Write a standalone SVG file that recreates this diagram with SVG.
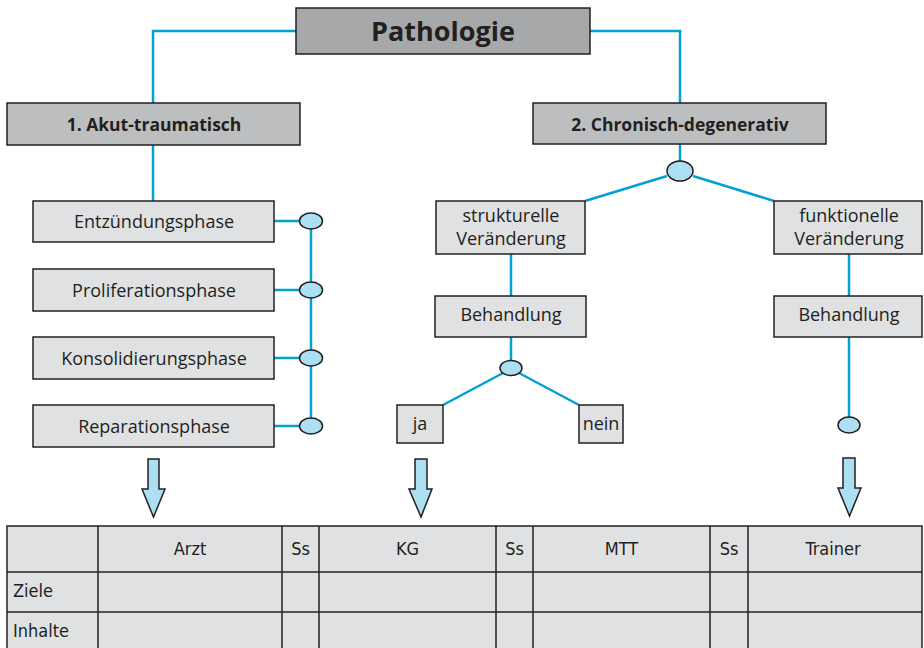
<svg xmlns="http://www.w3.org/2000/svg" width="924" height="648" viewBox="0 0 924 648">
<defs>
<style>
.dark{fill:#a7a8aa;stroke:#231f20;stroke-width:1.5}
.mid{fill:#bdbec0;stroke:#231f20;stroke-width:1.5}
.light{fill:#e0e1e3;stroke:#231f20;stroke-width:1.5}
.con{fill:none;stroke:#00a0d1;stroke-width:2.5}
.dot{fill:#acdff1;stroke:#231f20;stroke-width:1.5}
.arr{fill:#acdff1;stroke:#231f20;stroke-width:1.5;stroke-linejoin:miter}
.t{font-family:"Open Sans","Noto Sans",sans-serif;font-size:18px;fill:#231f20;text-anchor:middle}
.b{font-family:"Open Sans","Noto Sans",sans-serif;font-weight:bold;fill:#231f20;text-anchor:middle}
.c{font-family:"DejaVu Sans Condensed","Liberation Sans Narrow","Roboto Condensed",sans-serif;font-size:18px;fill:#231f20}
.tb{fill:#e0e1e3;stroke:#231f20;stroke-width:1.5}
.tl{stroke:#231f20;stroke-width:1.5}
</style>
</defs>

<g id="connectors">
<polyline class="con" points="296,31 153,31 153,103"/>
<polyline class="con" points="590,31 680,31 680,103"/>
<line class="con" x1="153" y1="145" x2="153" y2="201"/>
<line class="con" x1="680" y1="144" x2="680" y2="161"/>
<line class="con" x1="667" y1="176" x2="585" y2="201"/>
<line class="con" x1="693" y1="176" x2="774" y2="201"/>
<line class="con" x1="311" y1="221" x2="311" y2="426"/>
<line class="con" x1="274" y1="221" x2="300" y2="221"/>
<line class="con" x1="274" y1="290" x2="300" y2="290"/>
<line class="con" x1="274" y1="358" x2="300" y2="358"/>
<line class="con" x1="274" y1="426" x2="300" y2="426"/>
<line class="con" x1="511" y1="254" x2="511" y2="296"/>
<line class="con" x1="511" y1="337" x2="511" y2="360"/>
<line class="con" x1="503" y1="373" x2="443" y2="405"/>
<line class="con" x1="519" y1="373" x2="579" y2="405"/>
<line class="con" x1="849" y1="254" x2="849" y2="296"/>
<line class="con" x1="849" y1="337" x2="849" y2="417"/>
</g>

<g id="pathologie">
<rect class="dark" x="296" y="8" width="294" height="46"/>
<text class="b" x="443" y="41" font-size="27">Pathologie</text>
</g>
<g id="akut">
<rect class="mid" x="7" y="103" width="293" height="42"/>
<text class="b" x="154" y="131" font-size="17.5">1. Akut-traumatisch</text>
</g>
<g id="chronisch">
<rect class="mid" x="533" y="103" width="293" height="41"/>
<text class="b" x="680" y="131" font-size="17.5">2. Chronisch-degenerativ</text>
</g>
<g id="dot-chronisch"><ellipse class="dot" cx="680" cy="171" rx="13" ry="10"/></g>

<g id="entzuendung">
<rect class="light" x="33" y="201" width="241" height="41"/>
<text class="t" x="154" y="228">Entzündungsphase</text>
</g>
<g id="proliferation">
<rect class="light" x="33" y="269" width="241" height="42"/>
<text class="t" x="154" y="297">Proliferationsphase</text>
</g>
<g id="konsolidierung">
<rect class="light" x="33" y="337" width="241" height="42"/>
<text class="t" x="154" y="365">Konsolidierungsphase</text>
</g>
<g id="reparation">
<rect class="light" x="33" y="405" width="241" height="42"/>
<text class="t" x="154" y="433">Reparationsphase</text>
</g>
<g id="dots-left">
<ellipse class="dot" cx="311" cy="221" rx="11.5" ry="8"/>
<ellipse class="dot" cx="311" cy="290" rx="11.5" ry="8"/>
<ellipse class="dot" cx="311" cy="358" rx="11.5" ry="8"/>
<ellipse class="dot" cx="311" cy="426" rx="11.5" ry="8"/>
</g>

<g id="strukturelle">
<rect class="light" x="436" y="201" width="149" height="53"/>
<text class="t" x="511" y="222">strukturelle</text>
<text class="t" x="511" y="245">Veränderung</text>
</g>
<g id="funktionelle">
<rect class="light" x="774" y="201" width="148" height="53"/>
<text class="t" x="849" y="222">funktionelle</text>
<text class="t" x="849" y="245">Veränderung</text>
</g>
<g id="behandlung-1">
<rect class="light" x="435" y="296" width="151" height="41"/>
<text class="t" x="511" y="321">Behandlung</text>
</g>
<g id="behandlung-2">
<rect class="light" x="774" y="296" width="148" height="41"/>
<text class="t" x="849" y="321">Behandlung</text>
</g>
<g id="dot-behandlung"><ellipse class="dot" cx="511" cy="368" rx="11" ry="7.5"/></g>
<g id="dot-right"><ellipse class="dot" cx="849" cy="425" rx="11" ry="8"/></g>
<g id="ja">
<rect class="light" x="397" y="405" width="46" height="38"/>
<text class="t" x="420" y="430">ja</text>
</g>
<g id="nein">
<rect class="light" x="579" y="405" width="44" height="38"/>
<text class="t" x="601" y="430">nein</text>
</g>

<g id="arrows">
<polygon class="arr" points="148,459 159,459 159,489 165,489 153.5,517 142,489 148,489"/>
<polygon class="arr" points="415,459 427,459 427,489 432,489 421,517 409,489 415,489"/>
<polygon class="arr" points="843,458 855,458 855,488 861,488 849.5,516 838,488 843,488"/>
</g>

<g id="table">
<rect class="tb" x="7" y="526" width="915" height="124"/>
<line class="tl" x1="7" y1="572" x2="922" y2="572"/>
<line class="tl" x1="7" y1="612" x2="922" y2="612"/>
<line class="tl" x1="98" y1="526" x2="98" y2="648"/>
<line class="tl" x1="282" y1="526" x2="282" y2="648"/>
<line class="tl" x1="319" y1="526" x2="319" y2="648"/>
<line class="tl" x1="496" y1="526" x2="496" y2="648"/>
<line class="tl" x1="533" y1="526" x2="533" y2="648"/>
<line class="tl" x1="710" y1="526" x2="710" y2="648"/>
<line class="tl" x1="748" y1="526" x2="748" y2="648"/>
<text class="c" x="190" y="555" text-anchor="middle">Arzt</text>
<text class="c" x="300.5" y="555" text-anchor="middle">Ss</text>
<text class="c" x="407.5" y="555" text-anchor="middle">KG</text>
<text class="c" x="514.5" y="555" text-anchor="middle">Ss</text>
<text class="c" x="621.5" y="555" text-anchor="middle">MTT</text>
<text class="c" x="729" y="555" text-anchor="middle">Ss</text>
<text class="c" x="833" y="555" text-anchor="middle">Trainer</text>
<text class="c" x="13" y="597">Ziele</text>
<text class="c" x="13" y="637">Inhalte</text>
</g>
</svg>
